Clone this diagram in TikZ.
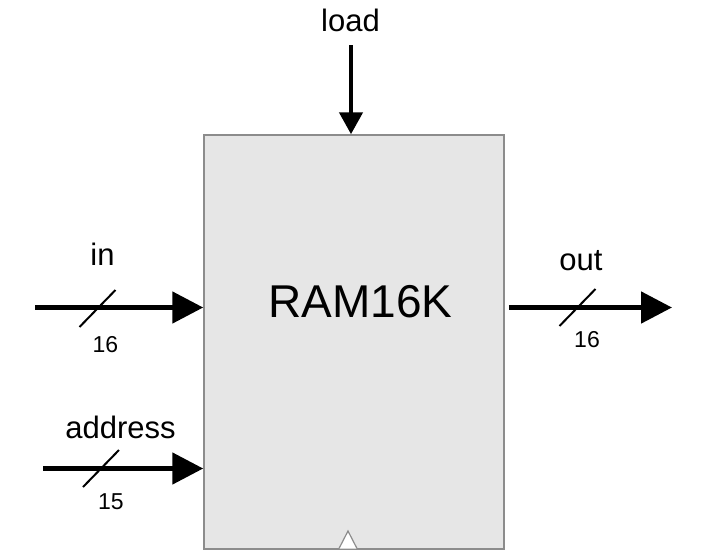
\documentclass[tikz,border=0pt]{standalone}
\usepackage{fontspec}
\setmainfont{Liberation Sans}
\usetikzlibrary{arrows.meta}
\definecolor{chipfill}{HTML}{E6E6E6}
\definecolor{chipedge}{HTML}{8C8C8C}

\begin{document}
\begin{tikzpicture}[x=1pt, y=-1pt,
	bus/.style={line width=5pt, -{Triangle[length=31pt, width=31pt]}},
	ctrl/.style={line width=4.5pt, -{Triangle[length=22pt, width=23pt]}},
	slash/.style={line width=2pt},
	pin/.style={font=\fontsize{31}{31}\selectfont, inner sep=0pt},
	width/.style={font=\fontsize{23}{23}\selectfont, inner sep=0pt}]
	\useasboundingbox (0, 0) rectangle (704, 555);
	\node[draw=chipedge, fill=chipfill, line width=1.5pt, minimum width=300pt, minimum height=414pt, inner sep=0pt] (ram) at (354, 342) {};
	\node[font=\fontsize{46}{46}\selectfont, inner sep=0pt] (name) at (360.5, 301.5) {RAM16K};
	\draw[draw=chipedge, fill=white, line width=1.2pt] (339, 548.5) -- (348, 531) -- (357, 548.5);
	
	\coordinate (inS) at (35, 307.5);
	\coordinate (addrS) at (43, 468.5);
	\coordinate (loadS) at (351, 45);
	\coordinate (outE) at (672, 307.5);
	
	\draw[bus] (inS) -- (inS -| ram.west);
	\draw[bus] (addrS) -- (addrS -| ram.west);
	\draw[bus] ([xshift=4pt]outE -| ram.east) -- (outE);
	\draw[ctrl] (loadS) -- (loadS |- ram.north);
	
	\draw[slash] (97.5, 308.5) +(-18, 18.5) -- +(18, -18.5);
	\draw[slash] (101, 468.5) +(-18, 18.5) -- +(18, -18.5);
	\draw[slash] (577.5, 307.5) +(-18, 18.5) -- +(18, -18.5);
	
	\node[pin] (load) at (350.5, 20.5) {load};
	\node[pin] (in) at (102.5, 254) {in};
	\node[pin] (address) at (120.5, 427.5) {address};
	\node[pin] (out) at (581, 260.5) {out};
	\node[width] (inw) at (105.5, 344.5) {16};
	\node[width] (addrw) at (111, 501.5) {15};
	\node[width] (outw) at (587, 340) {16};
	
	\end{tikzpicture}
\end{document}
